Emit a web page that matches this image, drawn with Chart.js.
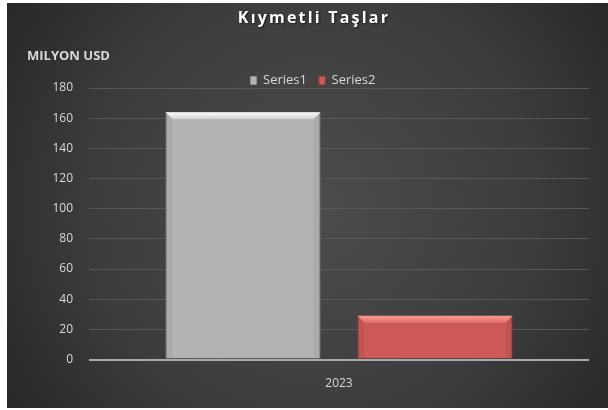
<!DOCTYPE html>
<html>
<head>
<meta charset="utf-8">
<script src="https://cdn.jsdelivr.net/npm/chart.js@4.4.1/dist/chart.umd.min.js"></script>
<style>
  html, body { margin: 0; padding: 0; background: #fff; overflow: hidden; }
  body { width: 608px; height: 410px; position: relative; }
  #wrap { position: absolute; left: 7px; top: 3px; width: 612px; height: 405px; }
</style>
</head>
<body>
<div id="wrap"><canvas id="chart" width="612" height="405"></canvas></div>
<script>
const TITLE = 'Kıymetli Taşlar';
const UNIT_LABEL = 'MILYON USD';
const CATEGORIES = ['2023'];
const SERIES_NAMES = ['Series1', 'Series2'];
const SERIES1 = [164];
const SERIES2 = [29];
const Y_MAX = 180;
const Y_STEP = 20;

const FONT = '"Open Sans", "Noto Sans", sans-serif';

// fondo oscuro con degradado radial
const backdrop = {
  id: 'backdrop',
  beforeDraw(chart) {
    const { ctx, width, height } = chart;
    ctx.save();
    const g = ctx.createRadialGradient(width * 0.5, height * 0.5, 10, width * 0.5, height * 0.5, width * 0.62);
    g.addColorStop(0, '#4b4b4b');
    g.addColorStop(0.55, '#3d3d3d');
    g.addColorStop(1, '#262626');
    ctx.fillStyle = g;
    ctx.fillRect(0, 0, width, height);
    ctx.restore();
  }
};

// la leyenda queda más pegada al área del gráfico y centrada en todo el ancho
const tightLegend = {
  id: 'tightLegend',
  beforeLayout(chart) {
    const lg = chart.legend;
    if (lg && !lg._tight) {
      const fit = lg.fit;
      lg.fit = function () { fit.call(this); this.height -= 9; };
      lg._tight = true;
    }
  },
  afterLayout(chart) {
    const lg = chart.legend;
    if (lg) {
      lg.left = 0;
      lg.right = chart.width;
    }
  }
};

// título con espaciado y la etiqueta de unidades
const headings = {
  id: 'headings',
  afterDraw(chart) {
    const { ctx } = chart;
    ctx.save();
    ctx.letterSpacing = '2.2px';
    ctx.font = 'bold 16px ' + FONT;
    ctx.fillStyle = '#ffffff';
    ctx.textAlign = 'center';
    ctx.textBaseline = 'middle';
    ctx.shadowColor = 'rgba(0,0,0,0.6)';
    ctx.shadowOffsetX = 1;
    ctx.shadowOffsetY = 1;
    ctx.shadowBlur = 2;
    ctx.fillText(TITLE, 307, 15);
    ctx.letterSpacing = '0px';
    ctx.shadowColor = 'transparent';
    ctx.font = 'bold 13px ' + FONT;
    ctx.fillStyle = '#d9d9d9';
    ctx.textAlign = 'left';
    ctx.fillText(UNIT_LABEL, 20, 53);
    ctx.restore();
  }
};

// biselado de las barras
const bevel = {
  id: 'bevel',
  afterDatasetsDraw(chart) {
    const { ctx } = chart;
    const tones = [
      { top: ['#ffffff', '#d0d0d0'], side: 'rgba(140,140,140,0.2)' },
      { top: ['#f89b96', '#e06e6a'], side: 'rgba(160,60,60,0.2)' }
    ];
    chart.data.datasets.forEach((ds, di) => {
      chart.getDatasetMeta(di).data.forEach(bar => {
        const { x, y, width, base } = bar.getProps(['x', 'y', 'width', 'base'], true);
        const l = x - width / 2, r = x + width / 2, b = 7;
        ctx.save();
        const g = ctx.createLinearGradient(0, y, 0, y + b);
        g.addColorStop(0, tones[di].top[0]);
        g.addColorStop(1, tones[di].top[1]);
        ctx.fillStyle = g;
        ctx.beginPath();
        ctx.moveTo(l, y); ctx.lineTo(r, y); ctx.lineTo(r - b, y + b); ctx.lineTo(l + b, y + b);
        ctx.closePath(); ctx.fill();
        ctx.fillStyle = tones[di].side;
        ctx.beginPath();
        ctx.moveTo(l, y); ctx.lineTo(l + b, y + b); ctx.lineTo(l + b, base); ctx.lineTo(l, base);
        ctx.closePath(); ctx.fill();
        ctx.beginPath();
        ctx.moveTo(r, y); ctx.lineTo(r - b, y + b); ctx.lineTo(r - b, base); ctx.lineTo(r, base);
        ctx.closePath(); ctx.fill();
        ctx.restore();
      });
    });
  }
};

new Chart(document.getElementById('chart'), {
  type: 'bar',
  data: {
    labels: CATEGORIES,
    datasets: [
      {
        label: SERIES_NAMES[0],
        data: SERIES1,
        backgroundColor: '#b3b3b3',
        borderColor: '#8e8e8e',
        borderWidth: 1,
        categoryPercentage: 0.768,
        barPercentage: 0.807,
      },
      {
        label: SERIES_NAMES[1],
        data: SERIES2,
        backgroundColor: '#cd5a58',
        borderColor: '#a84342',
        borderWidth: 1,
        categoryPercentage: 0.768,
        barPercentage: 0.807,
      }
    ]
  },
  options: {
    responsive: false,
    animation: false,
    layout: { padding: { top: 59, right: 30, bottom: 8, left: 0 } },
    plugins: {
      title: { display: false },
      tooltip: { enabled: false },
      legend: {
        position: 'top',
        labels: {
          color: '#d9d9d9',
          font: { family: FONT, size: 13 },
          boxWidth: 6,
          boxHeight: 8,
          padding: 12,
        }
      }
    },
    scales: {
      x: {
        grid: { display: false },
        border: { display: false },
        ticks: { color: '#d9d9d9', font: { family: FONT, size: 12 }, padding: 9 },
      },
      y: {
        min: 0,
        max: Y_MAX,
        afterFit: s => { s.width = 82; },
        border: { display: false },
        grid: {
          drawTicks: false,
          color: c => c.tick.value === 0 ? '#a9a9a9' : '#575757',
          lineWidth: c => c.tick.value === 0 ? 2 : 1,
        },
        ticks: {
          stepSize: Y_STEP,
          color: '#d9d9d9',
          font: { family: FONT, size: 12 },
          padding: 16,
        }
      }
    }
  },
  plugins: [backdrop, tightLegend, bevel, headings]
});
</script>
</body>
</html>
